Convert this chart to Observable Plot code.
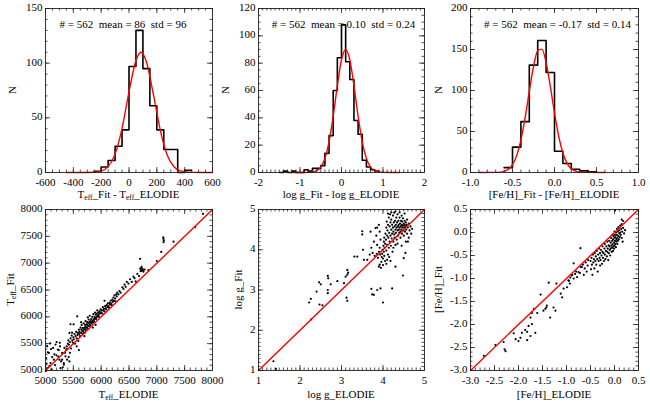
<!DOCTYPE html>
<html><head><meta charset="utf-8">
<script src="https://cdn.jsdelivr.net/npm/d3@7"></script>
<script src="https://cdn.jsdelivr.net/npm/@observablehq/plot@0.6"></script>
<style>
body{margin:0;background:#fff;}
#fig{position:relative;width:650px;height:403px;overflow:hidden;background:#fff;font-family:"Liberation Serif",serif;}
#fig svg{position:absolute;}
#fig svg text{font-family:"Liberation Serif",serif;}
</style></head><body><div id="fig"></div>
<script>
const FONT = '"Liberation Serif", serif';
const FS = 11;

// ---------- Histogram panels ----------
const teffBinLo = [-250,-200,-150,-100,-50,0,50,100,150,200,250,300,350,400];
const teffCounts = [1,5,11,24,39,97,130,95,61,39,21,21,0,2];
const teffBinW = 50;
const teffFitX = [-450,-350,-250,-200,-150,-100,-50,0,50,86,125,175,225,275,325,375,450,525,600];
const teffFitY = [0,0,0.2,1.3,5.4,16.8,40.3,73.7,102.5,110,101.3,71.6,38.6,15.8,5.0,1.2,0.1,0,0];

const loggBinLo = [-1.5,-1.4,-1.3,-1.2,-1.1,-1.0,-0.9,-0.8,-0.7,-0.6,-0.5,-0.4,-0.3,-0.2,-0.1,0.0,0.1,0.2,0.3,0.4,0.5,0.6,0.7,0.8];
const loggCounts = [0,1,0,1,0,0,2,1,3,3,5,14,27,60,84,108,81,68,38,28,9,4,2,1];
const loggBinW = 0.1;
const loggFitX = [-1.2,-0.9,-0.8,-0.7,-0.6,-0.5,-0.4,-0.3,-0.2,-0.1,0.0,0.1,0.2,0.3,0.4,0.5,0.6,0.7,0.8,0.9,1.0,1.4];
const loggFitY = [0,0.01,0.07,0.35,1.3,4.0,10.3,22.4,41.2,63.6,82.5,90,82.5,63.6,41.2,22.4,10.3,4.0,1.3,0.35,0.07,0];

const fehBinLo = [-0.6,-0.5,-0.4,-0.3,-0.2,-0.1,0.0,0.1,0.2,0.3,0.4];
const fehCounts = [6,31,62,131,161,122,26,11,4,2,1];
const fehBinW = 0.1;
const fehFitX = [-0.9,-0.7,-0.65,-0.6,-0.55,-0.5,-0.45,-0.4,-0.35,-0.3,-0.25,-0.2,-0.15,-0.1,-0.05,0.0,0.05,0.1,0.15,0.2,0.25,0.3,0.35,0.6];
const fehFitY = [0,0.1,0.4,1.4,3.8,9.5,20.6,39.4,66.5,98.8,129.1,148.5,150.5,134.1,105.3,72.7,44.2,23.7,11.2,4.6,1.7,0.5,0.15,0];

const statTexts = [
  "# = 562\u00a0\u00a0mean = 86\u00a0\u00a0std = 96",
  "# = 562\u00a0\u00a0mean = 0.10\u00a0\u00a0std = 0.24",
  "# = 562\u00a0\u00a0mean = -0.17\u00a0\u00a0std = 0.14"
];

// ---------- Scatter panels: [ELODIE, Fit] ----------
const teffPairs = [
[5012,5233],[5030,5044],[5005,4990],[5060,5327],[5090,5138],[5137,5421],[5150,5201],[5180,5484],[5197,5283],[5221,5390],
[5257,5516],[5269,5044],[5299,5201],[5299,5327],[5329,5138],[5329,5107],[5359,5264],[5388,5201],[5388,5403],[5020,5130],
[5040,5340],[5070,5080],[5100,5400],[5110,5020],[5120,5250],[5160,5300],[5170,5100],[5230,5260],[5240,5380],[5250,5200],
[5260,5450],[5280,5170],[5310,5060],[5340,5420],[5350,5330],[5370,5380],[5380,5450],[5400,5500],[5418,5250],[5430,5170],
[5440,5330],[5030,5453],[5085,5505],[5200,5530],
[5410,5560],[5420,5480],[5430,5700],[5440,5530],[5450,5600],[5460,5410],[5470,5650],[5480,5560],[5490,5520],[5500,5620],
[5505,5860],[5510,5580],[5520,5680],[5530,5500],[5540,5640],[5550,5720],[5560,5600],[5570,6010],[5575,5660],[5580,5700],
[5590,5550],[5600,5760],[5605,5680],[5610,5720],[5620,5640],[5630,5800],[5640,5700],[5645,5760],[5650,5850],[5660,5740],
[5665,5680],[5670,5790],[5680,5720],[5685,5880],[5690,5760],[5700,5800],[5705,5700],[5710,5850],[5715,5770],[5720,5920],
[5725,5810],[5730,5750],[5740,5860],[5745,5800],[5750,5900],[5755,5840],[5760,5780],[5770,5880],[5775,5950],[5780,5830],
[5790,5900],[5795,6020],[5800,5860],[5805,5920],[5810,5840],[5820,5960],[5825,5900],[5830,5880],[5840,6000],[5845,5930],
[5850,5900],[5860,6050],[5865,5960],[5870,5920],[5880,6000],[5885,5960],[5890,6080],[5900,5980],[5905,6040],[5910,5960],
[5920,6060],[5925,6000],[5930,6120],[5940,6020],[5950,6080],[5955,6040],[5960,6000],[5970,6100],[5980,6060],[5990,6140],
[6000,6080],[6010,6120],[6020,6060],[6030,6180],[6040,6120],[6050,6150],[6060,6100],[6070,6200],[6080,6160],[6090,6140],
[6100,6220],[6110,6180],[6120,6250],[6130,6200],[6140,6170],[6150,6260],[6160,6230],[6170,6300],[6180,6250],[6190,6220],
[6200,6320],[6210,6280],[6220,6360],[6230,6300],[6240,6400],[6250,6340],[6260,6290],[6270,6420],[6280,6380],[6290,6450],
[5560,5450],[5600,5380],[5700,5640],[5850,5800],[5900,5850],[5478,5704],[5448,5862],[5760,5990],[5640,5900],[6060,6300],
[6310,6420],[6330,6480],[6350,6450],[6380,6550],[6400,6520],[6420,6600],[6440,6560],[6460,6650],[6490,6620],[6520,6700],
[6550,6650],[6580,6750],[6600,6720],[6620,6660],[6650,6800],[6680,6760],[6700,6900],[6710,6850],[6720,6880],[6725,6930],
[6730,6860],[6740,6900],[6750,6870],[6760,6840],[6780,6880],[6700,7080],[6850,6870],
[7000,7040],[7080,7210],[7115,7480],[7120,7450],[7125,7420],[7120,7390],[7300,7400],[7690,7670],[7830,7920]
];

const loggPairs = [
[1.36,1.23],[1.42,1.04],[2.27,2.27],[2.22,2.69],[2.26,2.78],[2.40,2.96],[2.46,3.19],[2.50,3.14],[2.47,2.64],[2.54,2.62],
[2.67,2.92],[2.67,3.0],[2.67,3.35],[2.68,3.29],[2.74,3.14],[2.90,3.22],[3.06,3.17],[3.10,3.33],[3.14,3.5],[3.14,3.38],
[3.16,3.43],[3.12,2.81],[3.14,2.73],[3.31,3.83],[3.38,3.83],[3.50,4.46],[3.50,4.38],[3.52,4.0],[3.54,3.75],[3.62,3.75],
[3.68,3.88],[3.72,3.03],[3.74,2.89],[3.78,2.88],[3.86,3.0],[3.94,3.04],[4.0,2.69],[4.22,3.04],[4.48,3.36],[4.30,3.58],
[3.92,3.63],[3.82,4.54],[3.90,3.58],[4.54,3.92],[4.50,3.79],
[3.95,3.55],[3.96,3.70],[3.97,3.82],[3.98,3.90],[3.99,4.00],[4.00,3.62],[4.00,3.78],[4.01,4.10],[4.02,3.95],[4.02,4.20],
[4.03,3.85],[4.03,4.30],[4.04,4.05],[4.05,3.72],[4.05,4.15],[3.94,4.25],[3.93,3.88],[3.92,4.05],[3.90,3.95],[3.88,3.80],
[3.86,4.12],[3.85,3.90],[3.84,4.35],[3.80,3.85],[3.78,4.20],[3.75,3.92],[3.72,4.05],[3.70,4.45],[3.86,4.55],[3.90,4.62],[3.92,4.45],
[4.06,4.40],[4.07,4.25],[4.08,4.55],[4.08,3.98],[4.09,4.70],[4.10,4.35],[4.10,4.12],[4.11,4.48],[4.12,3.88],[4.12,4.62],
[4.13,4.30],[4.14,4.80],[4.14,4.05],[4.15,4.42],[4.16,4.58],[4.16,4.20],[4.17,4.88],[4.18,4.35],[4.18,4.68],[4.19,4.10],
[4.20,4.50],[4.20,4.75],[4.21,4.28],[4.22,4.62],[4.22,4.40],[4.23,3.95],[4.24,4.55],[4.24,4.85],[4.25,4.45],[4.25,4.20],
[4.26,4.68],[4.27,4.38],[4.27,4.92],[4.28,4.58],[4.28,4.30],[4.29,4.72],[4.30,4.50],[4.30,4.12],[4.31,4.62],[4.31,4.42],
[4.32,4.80],[4.33,4.55],[4.33,4.25],[4.34,4.68],[4.35,4.48],[4.35,4.88],[4.36,4.58],[4.36,4.35],[4.37,4.72],[4.38,4.50],
[4.38,4.62],[4.39,4.42],[4.40,4.80],[4.40,4.55],[4.41,4.65],[4.42,4.45],[4.42,4.30],[4.43,4.72],[4.43,4.58],[4.44,4.50],
[4.45,4.85],[4.45,4.62],[4.46,4.40],[4.46,4.70],[4.47,4.55],[4.48,4.60],[4.48,4.78],[4.49,4.48],[4.50,4.65],[4.50,4.35],
[4.51,4.55],[4.52,4.72],[4.52,4.62],[4.53,4.45],[4.54,4.58],[4.55,4.68],[4.55,4.20],[4.56,4.50],[4.57,4.62],[4.58,4.40],
[4.58,4.75],[4.60,4.55],[4.62,4.30],[4.62,4.65],[4.64,4.48],[4.66,4.58],[4.68,4.40],[4.70,4.52],[4.52,4.90],[4.40,4.93],
[4.30,4.95],[4.20,4.93],[4.12,4.90],[4.10,3.75],[4.15,3.82],[4.25,4.05],[4.35,4.15],[4.45,4.10],[4.60,4.20],[4.08,3.65],[4.18,3.72]
];

const fehPairs = [
[-2.72,-2.68],[-2.48,-2.45],[-2.29,-2.54],[-2.27,-2.58],[-2.31,-2.38],[-2.10,-2.19],[-2.06,-2.32],[-2.0,-2.36],[-1.96,-2.29],[-1.93,-2.18],
[-1.86,-2.12],[-1.82,-2.16],[-1.82,-2.34],[-1.75,-2.25],[-1.79,-2.03],[-1.72,-1.99],[-1.65,-2.18],[-1.75,-1.85],[-1.72,-1.75],[-1.68,-1.66],
[-1.61,-1.75],[-1.54,-1.35],[-1.48,-1.70],[-1.44,-1.66],[-1.42,-1.63],[-1.41,-1.59],[-1.37,-1.09],[-1.34,-1.85],[-1.27,-1.63],[-1.23,-1.70],
[-1.21,-1.11],[-1.12,-1.33],[-1.09,-1.41],[-1.06,-1.22],[-0.99,-1.19],[-0.96,-1.04],[-0.93,-1.11],[-0.89,-0.93],[-0.85,-0.67],[-0.85,-1.0],
[-0.78,-0.97],[-0.75,-0.86],[-0.71,-0.34],[-0.68,-0.75],
[-0.95,-1.05],[-0.92,-0.98],[-0.88,-0.92],[-0.82,-0.90],[-0.80,-0.85],[-0.72,-0.88],[-0.70,-0.75],[-0.66,-0.70],[-0.64,-0.92],[-0.62,-0.78],
[-0.60,-0.65],[-0.58,-0.85],[-0.56,-0.72],[-0.55,-0.60],
[-0.50,-0.62],[-0.49,-0.80],[-0.48,-0.55],[-0.47,-0.70],[-0.46,-0.92],[-0.45,-0.48],[-0.44,-0.65],[-0.43,-0.58],[-0.42,-0.78],[-0.41,-0.45],
[-0.40,-0.62],[-0.39,-0.52],[-0.38,-0.70],[-0.37,-0.40],[-0.36,-0.58],[-0.35,-0.85],[-0.34,-0.48],[-0.33,-0.62],[-0.32,-0.35],[-0.31,-0.55],
[-0.30,-0.72],[-0.30,-0.45],[-0.29,-0.60],[-0.28,-0.38],[-0.27,-0.50],[-0.26,-0.68],[-0.25,-0.42],[-0.25,-0.30],[-0.24,-0.55],[-0.23,-0.45],
[-0.22,-0.62],[-0.21,-0.35],[-0.20,-0.48],[-0.20,-0.25],[-0.19,-0.58],[-0.18,-0.40],[-0.17,-0.30],[-0.16,-0.52],[-0.15,-0.20],[-0.15,-0.42],
[-0.14,-0.35],[-0.13,-0.60],[-0.12,-0.28],[-0.12,-0.45],[-0.11,-0.18],[-0.10,-0.38],[-0.10,-0.30],[-0.09,-0.50],[-0.08,-0.22],[-0.08,-0.35],
[-0.07,-0.12],[-0.06,-0.42],[-0.06,-0.28],[-0.05,-0.18],[-0.05,-0.33],[-0.04,-0.05],[-0.04,-0.25],[-0.03,-0.40],[-0.03,-0.15],[-0.02,-0.30],
[-0.02,-0.08],[-0.01,-0.22],[-0.01,-0.35],[0.00,-0.12],[0.00,-0.28],[0.00,0.02],[0.01,-0.18],[0.01,-0.05],[0.02,-0.25],[0.02,-0.10],
[0.03,0.00],[0.03,-0.32],[0.04,-0.15],[0.04,-0.20],[0.05,-0.05],[0.05,0.08],[0.06,-0.12],[0.06,-0.25],[0.07,0.02],[0.07,-0.18],
[0.08,-0.08],[0.08,0.12],[0.09,-0.15],[0.10,0.05],[0.10,-0.02],[0.11,-0.10],[0.12,0.15],[0.12,0.00],[0.13,-0.05],[0.14,0.08],
[0.15,-0.12],[0.15,0.18],[0.16,0.02],[0.17,-0.20],[0.18,0.25],[0.18,0.10],[0.20,-0.02],[0.22,0.05],[0.01,0.48],[0.15,0.28]
];

// ---------- Axes ----------
const xTicks = [[-600,-400,-200,0,200,400,600],[-2,-1,0,1,2],[-1.0,-0.5,0.0,0.5,1.0],
                [5000,5500,6000,6500,7000,7500,8000],[1,2,3,4,5],[-3.0,-2.5,-2.0,-1.5,-1.0,-0.5,0.0,0.5]];
const yTicks = [[0,50,100,150],[0,20,40,60,80,100,120],[0,50,100,150,200],
                [5000,5500,6000,6500,7000,7500,8000],[1,2,3,4,5],[-3.0,-2.5,-2.0,-1.5,-1.0,-0.5,0.0,0.5]];
const xMinorStep = [50,0.1,0.1,100,0.1,0.1];
const yMinorStep = [10,5,10,100,0.1,0.1];
const intFmt = d => String(d), decFmt = d => d.toFixed(1);
const xFmts = [intFmt, intFmt, decFmt, intFmt, intFmt, decFmt];
const yFmts = [intFmt, intFmt, intFmt, intFmt, intFmt, decFmt];

const cells = [
  {left:0,   top:0,   w:216, h:200, mL:45, mR:4,  mT:8, mB:28},
  {left:216, top:0,   w:214, h:200, mL:42, mR:6,  mT:8, mB:28},
  {left:430, top:0,   w:220, h:200, mL:40, mR:12, mT:8, mB:28},
  {left:0,   top:200, w:216, h:203, mL:45, mR:4,  mT:9, mB:33},
  {left:216, top:200, w:214, h:203, mL:42, mR:6,  mT:9, mB:33},
  {left:430, top:200, w:220, h:203, mL:40, mR:12, mT:9, mB:33}
];

function minor(ticks, step) {
  const a = ticks[0], b = ticks[ticks.length-1];
  const n = Math.round((b - a) / step);
  return d3.range(n + 1).map(i => +(a + i * step).toFixed(6));
}

function frameMarks(i, W, H) {
  const xs = xTicks[i], ys = yTicks[i];
  const xm = minor(xs, xMinorStep[i]), ym = minor(ys, yMinorStep[i]);
  const L = 5, l = 2.5, st = {stroke: "#222", strokeWidth: 0.8};
  return [
    Plot.ruleX(xs, {x: d=>d, insetTop: H-L, ...st}),
    Plot.ruleX(xs, {x: d=>d, insetBottom: H-L, ...st}),
    Plot.ruleX(xm, {x: d=>d, insetTop: H-l, ...st}),
    Plot.ruleX(xm, {x: d=>d, insetBottom: H-l, ...st}),
    Plot.ruleY(ys, {y: d=>d, insetRight: W-L, ...st}),
    Plot.ruleY(ys, {y: d=>d, insetLeft: W-L, ...st}),
    Plot.ruleY(ym, {y: d=>d, insetRight: W-l, ...st}),
    Plot.ruleY(ym, {y: d=>d, insetLeft: W-l, ...st}),
    Plot.frame({stroke: "#222", strokeWidth: 0.9}),
    Plot.text(xs, {x: d=>d, text: xFmts[i], frameAnchor: "bottom", lineAnchor: "middle", dy: 10, fill: "black", fontFamily: FONT, fontSize: FS}),
    Plot.text(ys, {y: d=>d, text: yFmts[i], frameAnchor: "left", textAnchor: "end", lineAnchor: "middle", dx: -3, dy: -1, fill: "black", fontFamily: FONT, fontSize: FS})
  ];
}

const fig = document.getElementById("fig");

function makePlot(i, marks) {
  const c = cells[i];
  const W = c.w - c.mL - c.mR, H = c.h - c.mT - c.mB;
  const xs = xTicks[i], ys = yTicks[i];
  const svg = Plot.plot({
    width: c.w, height: c.h,
    marginLeft: c.mL, marginRight: c.mR, marginTop: c.mT, marginBottom: c.mB,
    x: {domain: [xs[0], xs[xs.length-1]], axis: null},
    y: {domain: [ys[0], ys[ys.length-1]], axis: null},
    style: {fontFamily: FONT, fontSize: FS + "px", background: "transparent", color: "black", overflow: "visible"},
    marks: [...marks, ...frameMarks(i, W, H)]
  });
  svg.style.position = "absolute";
  svg.style.left = c.left + "px";
  svg.style.top = c.top + "px";
  fig.appendChild(svg);
}

function stepData(lo, counts, w) {
  const pts = lo.map((x, k) => ({x, y: counts[k]}));
  pts.push({x: lo[lo.length-1] + w, y: counts[counts.length-1]});
  return pts;
}

const hists = [
  [teffBinLo, teffCounts, teffBinW, teffFitX, teffFitY, -6],
  [loggBinLo, loggCounts, loggBinW, loggFitX, loggFitY, 2],
  [fehBinLo, fehCounts, fehBinW, fehFitX, fehFitY, 3]
];
hists.forEach(([lo, cnt, w, fx, fy, tdx], i) => {
  makePlot(i, [
    Plot.line(stepData(lo, cnt, w), {x: "x", y: "y", curve: "step-after", stroke: "black", strokeWidth: 1.6}),
    Plot.line(fx.map((x, k) => ({x, y: fy[k]})), {x: "x", y: "y", curve: "monotone-x", stroke: "#ff0000", strokeWidth: 1.4}),
    Plot.text([statTexts[i]], {text: d=>d, frameAnchor: "top", dy: 12, dx: tdx, fill: "black", fontFamily: FONT, fontSize: FS})
  ]);
});

[teffPairs, loggPairs, fehPairs].forEach((pairs, j) => {
  const i = j + 3, xs = xTicks[i];
  const diag = [xs[0], xs[xs.length-1]];
  makePlot(i, [
    Plot.dot(pairs, {x: d=>d[0], y: d=>d[1], r: 1.1, fill: "black", stroke: null}),
    Plot.line(diag, {x: d=>d, y: d=>d, stroke: "#ff0000", strokeWidth: 1.4})
  ]);
});

// ---------- Axis titles (with subscripts) ----------
const overlay = d3.select(fig).append("svg")
  .attr("width", 650).attr("height", 403)
  .style("left", "0px").style("top", "0px").style("pointer-events", "none");

function rich(x, y, parts, rotate) {
  const t = overlay.append("text")
    .attr("transform", `translate(${x},${y})` + (rotate ? ` rotate(${rotate})` : ""))
    .attr("text-anchor", "middle").style("font-family", FONT).attr("font-size", FS).attr("fill", "black");
  let prevSub = false;
  parts.forEach(([s, sub], k) => {
    const ts = t.append("tspan").attr("font-size", sub ? 7.5 : FS).text(s);
    let dy = 0;
    if (k === 0) dy = 3.8;
    if (sub && !prevSub) dy += 2.5;
    if (!sub && prevSub) dy -= 2.5;
    ts.attr("dy", dy);
    prevSub = sub;
  });
}

const xTitles = [
  [["T",0],["eff",1],["_Fit - T",0],["eff",1],["_ELODIE",0]],
  [["log g_Fit - log g_ELODIE",0]],
  [["[Fe/H]_Fit - [Fe/H]_ELODIE",0]],
  [["T",0],["eff",1],["_ELODIE",0]],
  [["log g_ELODIE",0]],
  [["[Fe/H]_ELODIE",0]]
];
const yTitles = [
  [["N",0]], [["N",0]], [["N",0]],
  [["T",0],["eff",1],["_Fit",0]],
  [["log g_Fit",0]],
  [["[Fe/H]_Fit",0]]
];
const yTitleOffset = [33, 33, 32, 35, 20, 32];

cells.forEach((c, i) => {
  const fx = c.left + c.mL + (c.w - c.mL - c.mR) / 2;
  const fy = c.top + c.mT + (c.h - c.mT - c.mB) / 2;
  const bottom = c.top + c.h - c.mB;
  rich(fx, bottom + (i < 3 ? 22 : 24), xTitles[i], 0);
  rich(c.left + c.mL - yTitleOffset[i], fy, yTitles[i], -90);
});
</script></body></html>
